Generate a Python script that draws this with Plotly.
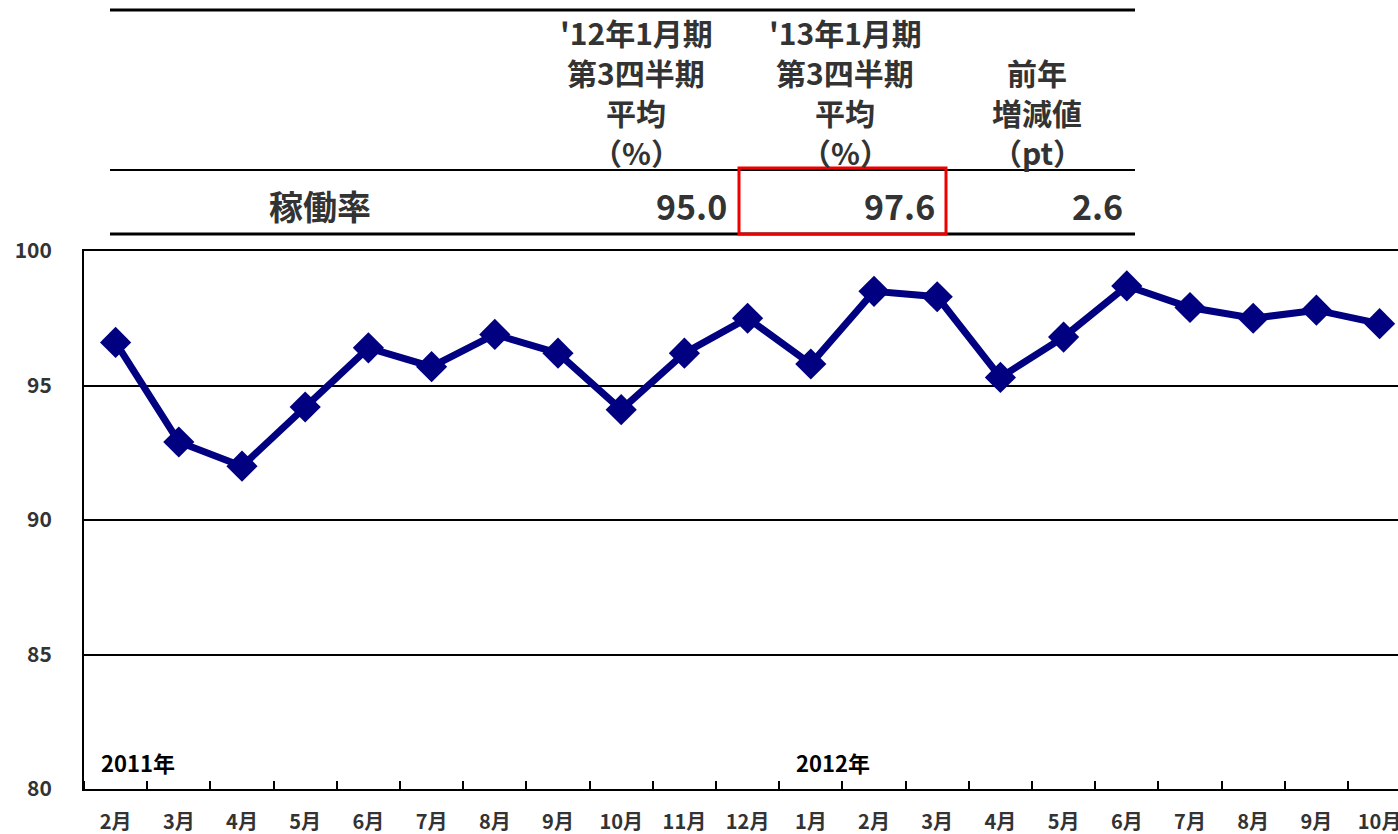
import plotly.graph_objects as go

# ---- data ----
months = ["2月", "3月", "4月", "5月", "6月", "7月", "8月", "9月", "10月", "11月", "12月",
          "1月", "2月", "3月", "4月", "5月", "6月", "7月", "8月", "9月", "10月"]
rates = [96.6, 92.9, 92.0, 94.2, 96.4, 95.7, 96.9, 96.2, 94.1, 96.2, 97.5,
         95.8, 98.5, 98.3, 95.3, 96.8, 98.7, 97.9, 97.5, 97.8, 97.3]
year_labels = ["2011年", "2012年"]
year_label_idx = [0, 11]

col_headers = [["'12年1月期", "第3四半期", "平均", "（%）"],
               ["'13年1月期", "第3四半期", "平均", "（%）"],
               ["前年", "増減値", "（pt）"]]
row_label = "稼働率"
row_values = ["95.0", "97.6", "2.6"]

# ---- geometry helpers (pixels -> paper) ----
W, H = 1398, 834
L, R, T, B = 84, 0, 251, 45
PW = W - L - R
PH = H - T - B


def px(x):
    return (x - L) / PW


def py(y):
    return (H - B - y) / PH


FONT = "Noto Sans CJK JP"
cat_w = 63.2
x_end = -0.5 + PW / cat_w

x = list(range(len(months)))

fig = go.Figure()
fig.add_trace(go.Scatter(
    x=x, y=rates, mode="lines+markers",
    line=dict(color="#000080", width=7),
    marker=dict(symbol="diamond", size=24, color="#000080"),
    cliponaxis=False, showlegend=False, hoverinfo="y",
))

fig.update_layout(
    width=W, height=H,
    margin=dict(l=L, r=R, t=T, b=B, autoexpand=False),
    plot_bgcolor="white", paper_bgcolor="white",
    font=dict(family=FONT, color="#333333"),
    xaxis=dict(
        range=[-0.5, x_end], automargin=False,
        tickmode="array", tickvals=x, ticktext=months,
        showgrid=False, zeroline=False,
        showline=True, linecolor="black", linewidth=2, mirror=True,
        ticks="",
        minor=dict(tick0=0.5, dtick=1, ticks="inside", ticklen=8,
                   tickwidth=1.5, tickcolor="black", showgrid=False),
        tickfont=dict(size=20, family=FONT, color="#333333", weight="bold"),
        ticklabelstandoff=14, ticklabeloverflow="allow",
    ),
    yaxis=dict(
        range=[80, 100], dtick=5, tick0=80, automargin=False,
        showgrid=True, gridcolor="black", gridwidth=1.5,
        zeroline=False,
        showline=True, linecolor="black", linewidth=2,
        ticks="", ticklabelstandoff=26,
        tickfont=dict(size=21, family=FONT, color="#333333", weight="bold"),
    ),
)

# year labels inside plot
for lab, idx in zip(year_labels, year_label_idx):
    fig.add_annotation(x=idx - 0.27, y=81.0, xref="x", yref="y", text=lab,
                       showarrow=False, xanchor="left", yanchor="middle",
                       font=dict(size=22, family=FONT, color="black", weight="bold"))

# ---- table ----
shapes = []
for (yy, lw) in [(10, 3), (170, 2), (234, 3)]:
    shapes.append(dict(type="line", xref="paper", yref="paper",
                       x0=px(110), x1=px(1135), y0=py(yy), y1=py(yy),
                       line=dict(color="black", width=lw)))
shapes.append(dict(type="rect", xref="paper", yref="paper",
                   x0=px(739), x1=px(946), y0=py(168), y1=py(234),
                   line=dict(color="#ee0000", width=3)))
fig.update_layout(shapes=shapes)

col_centers = [636, 845, 1037]
line_ys = [32, 72, 112, 152]
for ci, hdr in enumerate(col_headers):
    ys = line_ys[-len(hdr):]
    for txt, yy in zip(hdr, ys):
        fig.add_annotation(x=px(col_centers[ci]), y=py(yy), xref="paper", yref="paper",
                           text=txt, showarrow=False, xanchor="center", yanchor="middle",
                           font=dict(size=30, family=FONT, color="#333333", weight="bold"))

fig.add_annotation(x=px(320), y=py(205), xref="paper", yref="paper", text=row_label,
                   showarrow=False, xanchor="center", yanchor="middle",
                   font=dict(size=34, family=FONT, color="#333333", weight="bold"))
val_right = [729, 937, 1125]
for v, xr in zip(row_values, val_right):
    fig.add_annotation(x=px(xr), y=py(205), xref="paper", yref="paper", text=v,
                       showarrow=False, xanchor="right", yanchor="middle",
                       font=dict(size=34, family=FONT, color="#333333", weight="bold"))

fig.write_html("out.html",
               config={"displayModeBar": False},
               post_script="document.body.style.margin='0';document.body.style.overflow='hidden';")
